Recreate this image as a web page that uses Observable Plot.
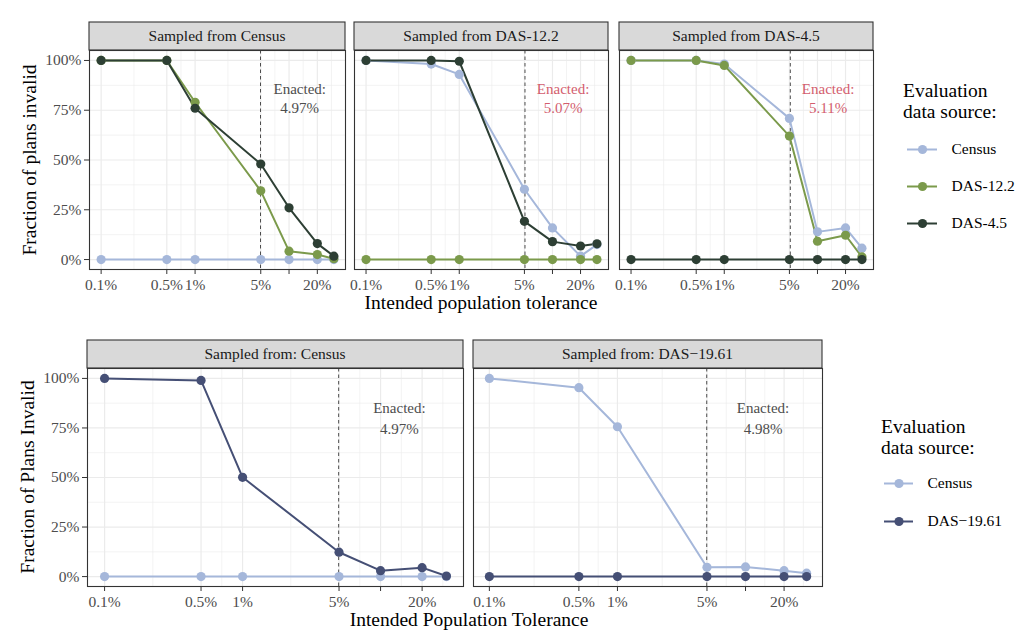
<!DOCTYPE html>
<html>
<head>
<meta charset="utf-8">
<script src="https://cdn.jsdelivr.net/npm/d3@7"></script>
<script src="https://cdn.jsdelivr.net/npm/@observablehq/plot@0.6"></script>
<style>
  html, body { margin: 0; padding: 0; background: #fff; }
  #root { position: relative; width: 1024px; height: 638px; overflow: hidden; background: #fff; }
  #root svg { position: absolute; }
</style>
</head>
<body>
<div id="root"></div>
<script>
// ---------------- DATA ----------------
const tolerances = [0.1, 0.5, 1, 5, 10, 20, 30];          // intended population tolerance, %
const xTickValues = [0.1, 0.5, 1, 5, 10, 20];
const xTickLabels = ["0.1%", "0.5%", "1%", "5%", "", "20%"];
const yTickValues = [0, 0.25, 0.5, 0.75, 1];
const yTickLabels = ["0%", "25%", "50%", "75%", "100%"];

// Top figure
const topPanelTitles = ["Sampled from Census", "Sampled from DAS-12.2", "Sampled from DAS-4.5"];
const topSeries = ["Census", "DAS-12.2", "DAS-4.5"];
const topColors = ["#a5b7da", "#7b9a4b", "#2d3f34"];
const topEnacted = [4.97, 5.07, 5.11];
const topEnactedLabels = ["4.97%", "5.07%", "5.11%"];
const topEnactedColors = ["#4d4d4d", "#d35d6e", "#d35d6e"];

// sampled from Census
const topCensus_Census = [0, 0, 0, 0, 0, 0, 0];
const topCensus_DAS12 = [1, 1, 0.79, 0.345, 0.042, 0.025, 0.004];
const topCensus_DAS45 = [1, 1, 0.76, 0.48, 0.26, 0.08, 0.017];
// sampled from DAS-12.2
const topDAS12_Census = [1, 0.982, 0.93, 0.353, 0.159, 0.017, 0.075];
const topDAS12_DAS12 = [0, 0, 0, 0, 0, 0, 0];
const topDAS12_DAS45 = [1, 1, 0.996, 0.192, 0.09, 0.068, 0.079];
// sampled from DAS-4.5
const topDAS45_Census = [1, 1, 0.982, 0.709, 0.139, 0.159, 0.057];
const topDAS45_DAS12 = [1, 1, 0.975, 0.62, 0.092, 0.122, 0.013];
const topDAS45_DAS45 = [0, 0, 0, 0, 0, 0, 0];

// Bottom figure
const bottomPanelTitles = ["Sampled from: Census", "Sampled from: DAS\u221219.61"];
const bottomSeries = ["Census", "DAS\u221219.61"];
const bottomColors = ["#a5b7da", "#454f75"];
const bottomEnacted = [4.97, 4.98];
const bottomEnactedLabels = ["4.97%", "4.98%"];
const bottomEnactedColors = ["#4d4d4d", "#4d4d4d"];

// sampled from Census
const botCensus_Census = [0, 0, 0, 0, 0, 0, 0];
const botCensus_DAS19 = [1, 0.99, 0.501, 0.123, 0.03, 0.045, 0.003];
// sampled from DAS-19.61
const botDAS19_Census = [1, 0.953, 0.756, 0.047, 0.049, 0.03, 0.017];
const botDAS19_DAS19 = [0, 0, 0, 0, 0, 0, 0];

// ---------------- HELPERS ----------------
const FONT = '"Liberation Serif", "Times New Roman", Times, serif';
const root = document.getElementById("root");

const lx0 = Math.log10(d3.min(tolerances)), lx1 = Math.log10(d3.max(tolerances));
const lpad = 0.05 * (lx1 - lx0);
const xDomain = [Math.pow(10, lx0 - lpad), Math.pow(10, lx1 + lpad)];
const yDomain = [-0.05, 1.05];

// ggplot-style minor breaks: midpoints (in log space) between majors, incl. one extra major step
const lmaj = xTickValues.map(Math.log10);
const ext = [lmaj[0] - (lmaj[1] - lmaj[0]), ...lmaj, lmaj[lmaj.length - 1] + (lmaj[lmaj.length - 1] - lmaj[lmaj.length - 2])];
const xMinor = d3.pairs(ext).map(([a, b]) => Math.pow(10, (a + b) / 2)).filter(v => v > xDomain[0] && v < xDomain[1]);
const yMinor = d3.pairs(yTickValues).map(([a, b]) => (a + b) / 2);

const xLabelMap = new Map(xTickValues.map((v, i) => [v, xTickLabels[i]]));
const yLabelMap = new Map(yTickValues.map((v, i) => [v, yTickLabels[i]]));

function makePanel(cfg) {
  const {left, top, width, height, marginLeft, series, colors, values, enacted, enactedLabel, enactedColor, labelX, labelY1, labelY2, showY} = cfg;
  const data = [];
  series.forEach((s, si) => tolerances.forEach((t, ti) => data.push({series: s, tol: t, frac: values[si][ti]})));
  const mb = 26;
  const marks = [
    Plot.gridX(xMinor, {stroke: "#ebebeb", strokeOpacity: 1, strokeWidth: 0.6}),
    Plot.gridY(yMinor, {stroke: "#ebebeb", strokeOpacity: 1, strokeWidth: 0.6}),
    Plot.gridX(xTickValues, {stroke: "#ebebeb", strokeOpacity: 1, strokeWidth: 1.2}),
    Plot.gridY(yTickValues, {stroke: "#ebebeb", strokeOpacity: 1, strokeWidth: 1.2}),
    Plot.ruleX([enacted], {stroke: "#4d4d4d", strokeWidth: 1, strokeDasharray: "3.5,3"}),
    Plot.line(data, {x: "tol", y: "frac", z: "series", stroke: "series", strokeWidth: 2}),
    Plot.dot(data, {x: "tol", y: "frac", fill: "series", r: 4.6}),
    Plot.text(["Enacted:"], {x: labelX, y: labelY1, text: d => d, fill: enactedColor, fontSize: 15}),
    Plot.text([enactedLabel], {x: labelX, y: labelY2, text: d => d, fill: enactedColor, fontSize: 15}),
    Plot.frame({stroke: "#333333", strokeWidth: 1.1}),
    // tick marks (labels drawn separately so the log scale does not thin them)
    Plot.axisX(xTickValues, {tickFormat: () => "", tickSize: 5, stroke: "#333333", label: null}),
    Plot.text(xTickValues, {x: d => d, frameAnchor: "bottom", dy: 16, lineAnchor: "middle",
      text: d => xLabelMap.get(d), fill: "#4d4d4d", fontSize: 15.5})
  ];
  if (showY) {
    marks.push(Plot.axisY(yTickValues, {tickFormat: d => yLabelMap.get(d), tickSize: 5, tickPadding: 3, fontSize: 15.5, color: "#4d4d4d", stroke: "#333333", label: null}));
  }
  const svg = Plot.plot({
    width: marginLeft + width + 1,
    height: 1 + height + mb,
    marginLeft, marginRight: 1, marginTop: 1, marginBottom: mb,
    style: {fontFamily: FONT, background: "transparent", overflow: "visible", fontSize: "15.5px"},
    x: {type: "log", domain: xDomain},
    y: {domain: yDomain, axis: showY ? undefined : null},
    color: {domain: series, range: colors},
    marks
  });
  svg.style.left = (left - marginLeft) + "px";
  svg.style.top = (top - 1) + "px";
  svg.style.maxWidth = "none";
  root.appendChild(svg);
}

function makeLegend({left, top, series, colors, spacing, keyWidth, labelGap}) {
  const svg = Plot.plot({
    width: 140, height: spacing * (series.length - 1) + 20,
    margin: 0,
    style: {fontFamily: FONT, background: "transparent", overflow: "visible"},
    x: {domain: [0, 1], range: [4, 4 + keyWidth], axis: null},
    y: {type: "point", domain: series, range: [10, 10 + spacing * (series.length - 1)], padding: 0, axis: null},
    color: {domain: series, range: colors},
    marks: [
      Plot.ruleY(series, {y: d => d, x1: 0, x2: 1, stroke: d => d, strokeWidth: 2}),
      Plot.dot(series, {y: d => d, x: 0.5, fill: d => d, r: 4.6}),
      Plot.text(series, {y: d => d, x: 1, dx: labelGap, text: d => d, textAnchor: "start", fontSize: 15.5, fill: "#000"})
    ]
  });
  svg.style.left = left + "px";
  svg.style.top = top + "px";
  svg.style.maxWidth = "none";
  root.appendChild(svg);
}

// ---------------- OVERLAY (strips & titles) ----------------
const overlay = d3.select(root).append("svg")
  .attr("width", 1024).attr("height", 638)
  .style("left", "0px").style("top", "0px")
  .style("font-family", FONT);

function strip(x, y, w, h, text) {
  overlay.append("rect").attr("x", x).attr("y", y).attr("width", w).attr("height", h)
    .attr("fill", "#d9d9d9").attr("stroke", "#333333").attr("stroke-width", 1.1);
  overlay.append("text").attr("x", x + w / 2).attr("y", y + h / 2).attr("dy", "0.35em")
    .attr("text-anchor", "middle").attr("font-size", 15.5).attr("fill", "#1a1a1a").text(text);
}
function title(x, y, text, opts = {}) {
  const t = overlay.append("text").attr("x", x).attr("y", y).attr("font-size", opts.size || 19.5)
    .attr("fill", "#000").attr("text-anchor", opts.anchor || "middle").text(text);
  if (opts.rotate) t.attr("x", 0).attr("y", 0).attr("dy", "0.3em").attr("transform", `translate(${x},${y}) rotate(-90)`);
}

// ---------------- TOP FIGURE ----------------
const topLayout = [
  {left: 89, width: 256},
  {left: 354, width: 254},
  {left: 619, width: 254}
];
const topValues = [
  [topCensus_Census, topCensus_DAS12, topCensus_DAS45],
  [topDAS12_Census, topDAS12_DAS12, topDAS12_DAS45],
  [topDAS45_Census, topDAS45_DAS12, topDAS45_DAS45]
];
topLayout.forEach((p, i) => {
  strip(p.left, 22, p.width, 28, topPanelTitles[i]);
  makePanel({
    left: p.left, top: 50, width: p.width, height: 219, marginLeft: i === 0 ? 50 : 0,
    series: topSeries, colors: topColors, values: topValues[i],
    enacted: topEnacted[i], enactedLabel: topEnactedLabels[i], enactedColor: topEnactedColors[i],
    labelX: 13, labelY1: 0.857, labelY2: 0.76, showY: i === 0
  });
});
title(481, 309, "Intended population tolerance");
title(30, 160, "Fraction of plans invalid", {rotate: true});
title(903, 97, "Evaluation", {anchor: "start"});
title(903, 118, "data source:", {anchor: "start"});
makeLegend({left: 903, top: 138, series: topSeries, colors: topColors, spacing: 37.5, keyWidth: 30, labelGap: 14});

// ---------------- BOTTOM FIGURE ----------------
const bottomLayout = [
  {left: 87, width: 376},
  {left: 473, width: 349}
];
const bottomValues = [
  [botCensus_Census, botCensus_DAS19],
  [botDAS19_Census, botDAS19_DAS19]
];
bottomLayout.forEach((p, i) => {
  strip(p.left, 340, p.width, 28, bottomPanelTitles[i]);
  makePanel({
    left: p.left, top: 368, width: p.width, height: 218, marginLeft: i === 0 ? 50 : 0,
    series: bottomSeries, colors: bottomColors, values: bottomValues[i],
    enacted: bottomEnacted[i], enactedLabel: bottomEnactedLabels[i], enactedColor: bottomEnactedColors[i],
    labelX: 13.7, labelY1: 0.852, labelY2: 0.745, showY: i === 0
  });
});
title(469, 626, "Intended Population Tolerance");
title(28, 477, "Fraction of Plans Invalid", {rotate: true});
title(881, 433, "Evaluation", {anchor: "start"});
title(881, 454, "data source:", {anchor: "start"});
makeLegend({left: 880, top: 473, series: bottomSeries, colors: bottomColors, spacing: 38, keyWidth: 29, labelGap: 14});
</script>
</body>
</html>
